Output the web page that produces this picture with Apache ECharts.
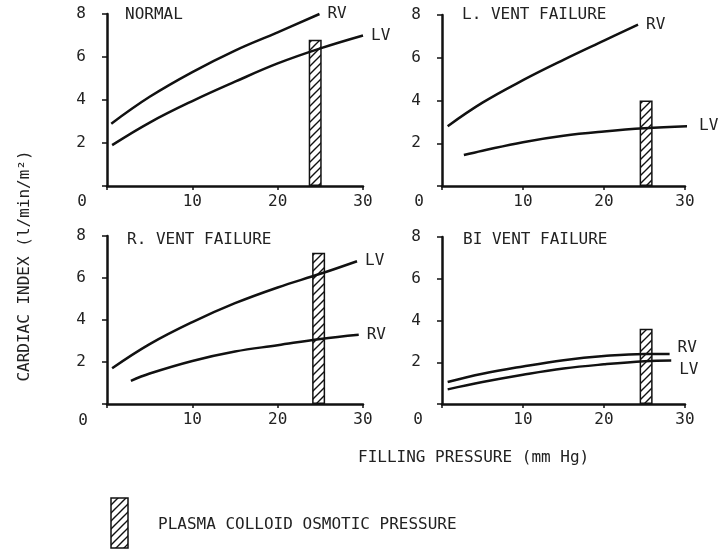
<!DOCTYPE html>
<html>
<head>
<meta charset="utf-8">
<script src="https://cdn.jsdelivr.net/npm/echarts@6/dist/echarts.min.js"></script>
<style>
  html, body { margin: 0; padding: 0; background: #fff; }
  #chart { width: 723px; height: 550px; }
</style>
</head>
<body>
<div id="chart"></div>
<script>
// panel titles
const panelTitles = ['NORMAL', 'L. VENT FAILURE', 'R. VENT FAILURE', 'BI VENT FAILURE'];
const xTicks = [0, 10, 20, 30];
const yTicks = [0, 2, 4, 6, 8];

// curves: [filling pressure, cardiac index]
const normalRV = [[0.5, 2.9], [5, 4.15], [10, 5.3], [15, 6.3], [20, 7.15], [24.9, 8.0]];
const normalLV = [[0.6, 1.9], [5, 2.95], [10, 3.95], [15, 4.85], [20, 5.7], [25, 6.4], [30, 7.0]];
const lFailRV = [[0.7, 2.8], [5, 3.9], [10, 4.95], [15, 5.9], [20, 6.8], [24.2, 7.55]];
const lFailLV = [[2.7, 1.45], [5, 1.65], [10, 2.05], [15, 2.35], [20, 2.55], [25, 2.7], [30.6, 2.8]];
const rFailLV = [[0.6, 1.7], [5, 2.85], [10, 3.9], [15, 4.8], [20, 5.55], [25, 6.2], [29.3, 6.8]];
const rFailRV = [[2.8, 1.1], [5, 1.45], [10, 2.05], [15, 2.5], [20, 2.8], [25, 3.1], [29.5, 3.3]];
const biRV = [[0.7, 1.05], [5, 1.45], [10, 1.8], [15, 2.1], [20, 2.3], [25, 2.4], [28.1, 2.4]];
const biLV = [[0.7, 0.7], [5, 1.05], [10, 1.4], [15, 1.7], [20, 1.9], [25, 2.05], [28.3, 2.08]];

// plasma colloid osmotic pressure bars: [pressure, height]
const copNormal = [[24.4, 6.8]];
const copLFail = [[25.2, 4.0]];
const copRFail = [[24.8, 7.2]];
const copBi = [[25.2, 3.6]];

const ink = '#111';
const font = { fontFamily: 'DejaVu Sans Mono', fontSize: 16, color: '#222' };
const cssFont = '16px "DejaVu Sans Mono"';

// diagonal hatch texture
function hatch() {
  const c = document.createElement('canvas');
  c.width = 8; c.height = 8;
  const g = c.getContext('2d');
  g.fillStyle = '#fff';
  g.fillRect(0, 0, 8, 8);
  g.strokeStyle = ink;
  g.lineWidth = 1.4;
  g.beginPath();
  g.moveTo(0, 8); g.lineTo(8, 0);
  g.moveTo(-1, 1); g.lineTo(1, -1);
  g.moveTo(7, 9); g.lineTo(9, 7);
  g.stroke();
  return c;
}
const hatchFill = { image: hatch(), repeat: 'repeat' };

const grids = [
  { left: 107, top: 14, width: 256, height: 172 },
  { left: 442, top: 15, width: 243, height: 171 },
  { left: 107, top: 236, width: 256, height: 168 },
  { left: 442, top: 237, width: 243, height: 167 }
];

function xAx(i) {
  return {
    gridIndex: i, type: 'value',
    min: xTicks[0], max: xTicks[xTicks.length - 1], interval: 10,
    axisLine: { show: true, lineStyle: { color: ink, width: 2.5 } },
    axisTick: { show: true, length: 4, lineStyle: { color: ink, width: 1.5 } },
    splitLine: { show: false },
    axisLabel: Object.assign({ margin: 8, formatter: v => (v === 0 ? '' : v) }, font)
  };
}

function yAx(i) {
  return {
    gridIndex: i, type: 'value',
    min: yTicks[0], max: yTicks[yTicks.length - 1], interval: 2,
    axisLine: { show: true, lineStyle: { color: ink, width: 2.5 } },
    axisTick: { show: true, length: 5, lineStyle: { color: ink, width: 1.5 } },
    splitLine: { show: false },
    axisLabel: Object.assign({ margin: 21, formatter: v => (v === 0 ? '' : v) }, font)
  };
}

function curve(i, name, data, offset) {
  return {
    type: 'line', name, xAxisIndex: i, yAxisIndex: i, data,
    smooth: 0.4, showSymbol: false, clip: false, z: 5,
    lineStyle: { color: ink, width: 2.5 },
    endLabel: Object.assign({ show: true, formatter: name, distance: 8, offset: offset || [0, 0] }, font)
  };
}

function cop(i, data) {
  return {
    type: 'bar', name: 'PLASMA COLLOID OSMOTIC PRESSURE',
    xAxisIndex: i, yAxisIndex: i, data, barWidth: 13, z: 2,
    itemStyle: { color: hatchFill, borderColor: ink, borderWidth: 1.5 }
  };
}

const titlePos = [[125, 7], [462, 7], [127, 232], [463, 232]];

function txt(x, y, text, align, rotation) {
  return {
    type: 'text', x, y, rotation: rotation || 0,
    style: { text, textAlign: align || 'center', textVerticalAlign: 'middle', fill: '#222', font: cssFont }
  };
}

const myChart = echarts.init(document.getElementById('chart'));
myChart.setOption({
  backgroundColor: '#fff',
  animation: false,
  title: panelTitles.map((t, i) => ({
    text: t, left: titlePos[i][0], top: titlePos[i][1], padding: 0,
    textStyle: Object.assign({ fontWeight: 'normal' }, font)
  })),
  grid: grids,
  xAxis: [0, 1, 2, 3].map(xAx),
  yAxis: [0, 1, 2, 3].map(yAx),
  series: [
    cop(0, copNormal), curve(0, 'RV', normalRV), curve(0, 'LV', normalLV),
    cop(1, copLFail), curve(1, 'RV', lFailRV), curve(1, 'LV', lFailLV, [4, 0]),
    cop(2, copRFail), curve(2, 'LV', rFailLV), curve(2, 'RV', rFailRV),
    cop(3, copBi), curve(3, 'RV', biRV, [0, -6]), curve(3, 'LV', biLV, [0, 9])
  ],
  graphic: [
    txt(82, 202, '0'),
    txt(419, 202, '0'),
    txt(83, 421, '0'),
    txt(418, 420, '0'),
    txt(358, 458, 'FILLING PRESSURE (mm Hg)', 'left'),
    txt(25, 266, 'CARDIAC INDEX (l/min/m²)', 'center', Math.PI / 2),
    { type: 'rect', shape: { x: 111, y: 498, width: 17, height: 50 }, style: { fill: hatchFill, stroke: ink, lineWidth: 1.5 } },
    txt(158, 525, 'PLASMA COLLOID OSMOTIC PRESSURE', 'left')
  ]
});

window.addEventListener('resize', () => { myChart.resize(); });
</script>
</body>
</html>
